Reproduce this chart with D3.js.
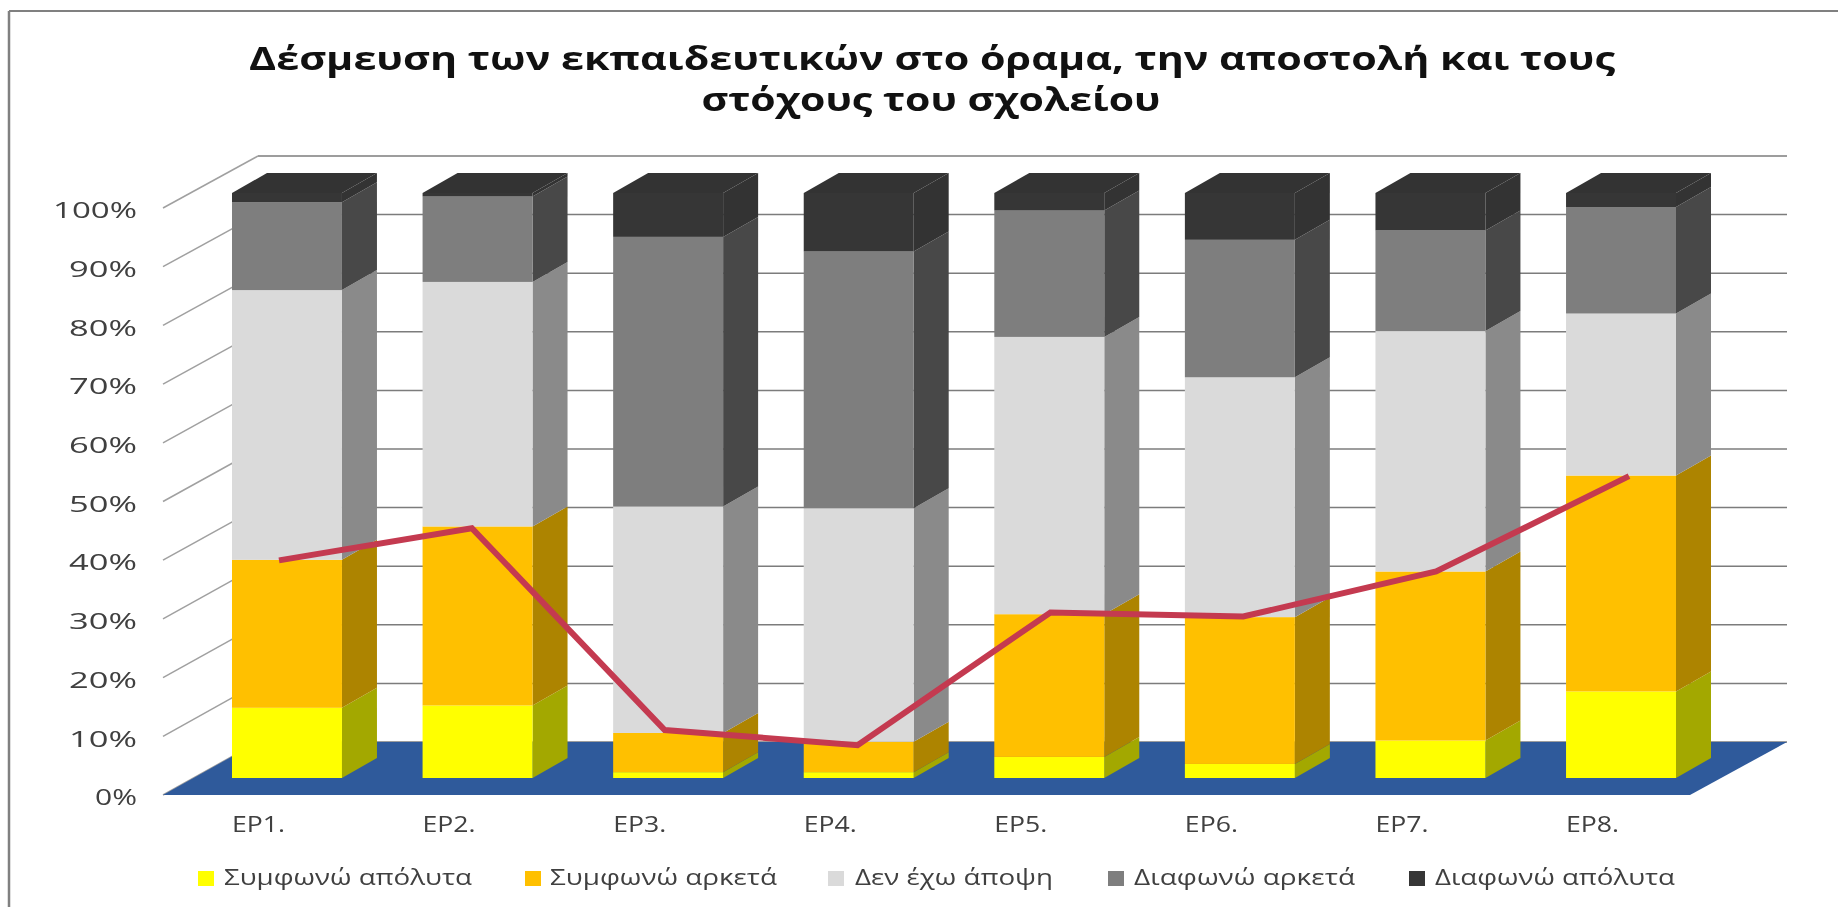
<!DOCTYPE html>
<html>
<head>
<meta charset="utf-8">
<script src="https://cdnjs.cloudflare.com/ajax/libs/d3/7.8.5/d3.min.js"></script>
<style>
html,body{margin:0;padding:0;background:#fff;overflow:hidden}
svg{display:block;filter:blur(0.7px)}
text{font-family:"Open Sans","Noto Sans",sans-serif}
</style>
</head>
<body>
<svg id="chart" width="1838" height="907"></svg>
<script>
const titleLines = ["Δέσμευση των εκπαιδευτικών στο όραμα, την αποστολή και τους", "στόχους του σχολείου"];
const categories = ["EP1.", "EP2.", "EP3.", "EP4.", "EP5.", "EP6.", "EP7.", "EP8."];
const seriesNames = ["Συμφωνώ απόλυτα", "Συμφωνώ αρκετά", "Δεν έχω άποψη", "Διαφωνώ αρκετά", "Διαφωνώ απόλυτα"];
const agreeFully = [12, 12.4, 1, 1, 3.6, 2.4, 6.4, 14.8];
const agreeQuite = [25.3, 30.6, 6.7, 5.2, 24.4, 25.1, 28.9, 36.9];
const noOpinion = [46.1, 41.8, 38.7, 39.9, 47.4, 41, 41.1, 27.7];
const disagreeQuite = [15, 14.6, 46.1, 43.9, 21.6, 23.5, 17.2, 18.2];
const disagreeFully = [1.6, 0.6, 7.5, 10, 3, 8, 6.4, 2.4];
const agreementLine = [37.2, 42.7, 8.2, 5.6, 28.3, 27.6, 35.3, 51.6];
const tickValues = [0, 10, 20, 30, 40, 50, 60, 70, 80, 90, 100];
const frontColors = ["#ffff00", "#ffc000", "#dadada", "#7e7e7e", "#363636"];
const sideColors = ["#a3a800", "#ad8400", "#8a8a8a", "#484848", "#333333"];
const topColor = "#333333";

const svg = d3.select("#chart");
const depthX = 35, depthY = 20;

const x = d3.scaleBand().domain(categories).range([232, 1676]).paddingInner(0.423).paddingOuter(0);
const xLine = d3.scalePoint().domain(categories).range([279, 1629]);
const yBar = d3.scaleLinear().domain([0, 100]).range([778, 193]);
const yBack = d3.scaleLinear().domain([0, 100]).range([742, 156]);
const yFront = d3.scaleLinear().domain([0, 100]).range([795, 208]);
const wallLeft = 258, wallRight = 1787, floorLeft = 163, floorRight = 1690;

// chart frame
svg.append("line").attr("x1", 9).attr("x2", 1838).attr("y1", 11).attr("y2", 11).attr("stroke", "#808080").attr("stroke-width", 2);
svg.append("line").attr("x1", 9).attr("x2", 9).attr("y1", 11).attr("y2", 907).attr("stroke", "#808080").attr("stroke-width", 2.5);

// title
svg.append("g").selectAll("text").data(titleLines).join("text")
  .attr("x", (d, i) => i === 0 ? 932 : 931).attr("y", (d, i) => 70 + i * 41)
  .attr("text-anchor", "middle").attr("font-size", 32).attr("font-weight", 700).attr("fill", "#111111")
  .attr("textLength", (d, i) => i === 0 ? 1366 : 459).attr("lengthAdjust", "spacingAndGlyphs")
  .text(d => d);

// back wall grid and side-wall diagonals
const grid = svg.append("g").attr("fill", "none");
grid.selectAll(".g").data(tickValues).join("line")
  .attr("class", "g").attr("stroke", "#7c7c7c").attr("stroke-width", 1.5)
  .attr("x1", wallLeft).attr("x2", wallRight)
  .attr("y1", d => yBack(d)).attr("y2", d => yBack(d));
grid.selectAll(".d").data(tickValues).join("line")
  .attr("class", "d").attr("stroke", "#a0a0a0").attr("stroke-width", 1.5)
  .attr("x1", floorLeft).attr("x2", wallLeft)
  .attr("y1", d => yFront(d)).attr("y2", d => yBack(d));

// floor
svg.append("path")
  .attr("d", d3.line()([[floorLeft, yFront(0)], [floorRight, yFront(0)], [wallRight, yBack(0)], [wallLeft, yBack(0)]]) + "Z")
  .attr("fill", "#2f5a9b");

// y axis labels
const yAxis = d3.axisLeft(yFront).tickValues(tickValues).tickFormat(d => d + "%").tickSize(0).tickPadding(0);
const gy = svg.append("g").attr("transform", "translate(137,3)").call(yAxis);
gy.select(".domain").remove();
gy.selectAll("text").attr("font-size", 21).attr("fill", "#404040").attr("font-family", '"Open Sans",sans-serif').attr("dy", "0.32em")
  .attr("textLength", d => d === 100 ? 84 : d > 0 ? 68 : 42).attr("lengthAdjust", "spacingAndGlyphs");

// x axis labels
svg.append("g").selectAll("text").data(categories).join("text")
  .attr("x", d => x(d)).attr("y", 832)
  .attr("font-size", 21).attr("fill", "#404040")
  .attr("textLength", 53).attr("lengthAdjust", "spacingAndGlyphs")
  .text(d => d);

// stacked 3D bars
const rows = categories.map((c, i) => ({
  cat: c, s0: agreeFully[i], s1: agreeQuite[i], s2: noOpinion[i], s3: disagreeQuite[i], s4: disagreeFully[i]
}));
const stacked = d3.stack().keys(["s0", "s1", "s2", "s3", "s4"])(rows);
const poly = d3.line();
const bars = svg.append("g");
stacked.forEach((layer, li) => {
  const g = bars.append("g");
  g.selectAll(".side").data(layer).join("path")
    .attr("fill", sideColors[li])
    .attr("d", d => {
      const r = x(d.data.cat) + x.bandwidth();
      return poly([[r, yBar(d[0])], [r + depthX, yBar(d[0]) - depthY], [r + depthX, yBar(d[1]) - depthY], [r, yBar(d[1])]]) + "Z";
    });
  g.selectAll(".front").data(layer).join("rect")
    .attr("fill", frontColors[li])
    .attr("x", d => x(d.data.cat)).attr("width", x.bandwidth())
    .attr("y", d => yBar(d[1])).attr("height", d => yBar(d[0]) - yBar(d[1]));
});
bars.append("g").selectAll("path").data(rows).join("path")
  .attr("fill", topColor)
  .attr("d", d => {
    const l = x(d.cat), r = l + x.bandwidth(), t = yBar(100);
    return poly([[l, t], [l + depthX, t - depthY], [r + depthX, t - depthY], [r, t]]) + "Z";
  });

// red line
svg.append("path")
  .attr("d", d3.line().x((d, i) => xLine(categories[i])).y(d => yBar(d))(agreementLine))
  .attr("fill", "none").attr("stroke", "#c43a50").attr("stroke-width", 6).attr("stroke-linejoin", "miter");

// legend
const legendSwatchX = [198, 525, 828, 1108, 1409];
const legendTextX = [224, 550, 855, 1134, 1435];
const legendTextW = [248, 227, 198, 221, 240];
const legend = svg.append("g");
seriesNames.forEach((name, i) => {
  legend.append("rect").attr("x", legendSwatchX[i]).attr("y", 871).attr("width", 16).attr("height", 15).attr("fill", frontColors[i]);
  legend.append("text").attr("x", legendTextX[i]).attr("y", 885)
    .attr("font-size", 21).attr("fill", "#404040")
    .attr("textLength", legendTextW[i]).attr("lengthAdjust", "spacingAndGlyphs").text(name);
});
</script>
</body>
</html>
